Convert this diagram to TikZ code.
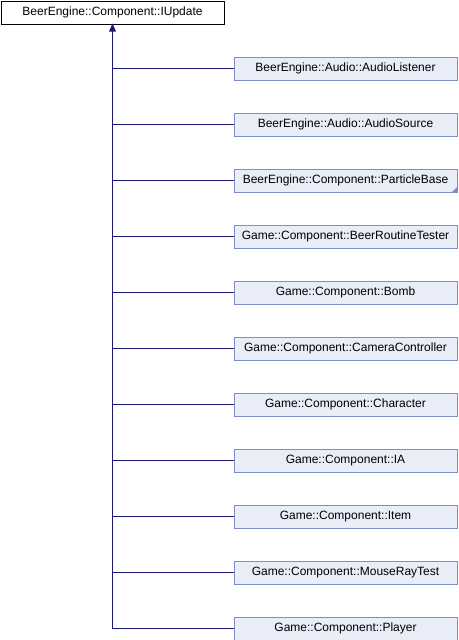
\documentclass[tikz,border=0pt]{standalone}
\usepackage{fontspec}
\setmainfont{Liberation Sans}
\usetikzlibrary{arrows.meta}
\definecolor{edgec}{HTML}{191970}
\definecolor{boxb}{HTML}{7C8FC6}
\definecolor{boxf}{HTML}{E8EDF7}
\begin{document}
\begin{tikzpicture}[x=0.75pt,y=-0.75pt,
  base/.style={draw=black,fill=white,line width=0.75pt,minimum width=223*0.75pt,minimum height=23*0.75pt,inner sep=0pt,font=\fontsize{9pt}{10pt}\selectfont,anchor=north west},
  child/.style={draw=boxb,fill=boxf,line width=0.75pt,minimum width=223*0.75pt,minimum height=23*0.75pt,inner sep=0pt,font=\fontsize{9pt}{10pt}\selectfont},
  edge/.style={draw=edgec,line width=0.75pt}]
\useasboundingbox (0,0) rectangle (458,640);
\node[base] (root) at (0.5,0.5) {BeerEngine::Component::IUpdate};
\coordinate (top) at (112.5,23.5);
\foreach \n/\t [count=\i from 0] in {
  c0/{BeerEngine::Audio::AudioListener},
  c1/{BeerEngine::Audio::AudioSource},
  c2/{BeerEngine::Component::ParticleBase},
  c3/{Game::Component::BeerRoutineTester},
  c4/{Game::Component::Bomb},
  c5/{Game::Component::CameraController},
  c6/{Game::Component::Character},
  c7/{Game::Component::IA},
  c8/{Game::Component::Item},
  c9/{Game::Component::MouseRayTest},
  c10/{Game::Component::Player}} {
  \node[child] (\n) at (345.5,68.5+56*\i) {\t};
  \coordinate (j\n) at (112.5,68.5+56*\i);
  \draw[edge] (j\n) -- (\n.west);
}
\draw[edge] (jc10) -- (top);
\fill[edgec] (top) -- ++(-3.5,8) -- ++(7,0) -- cycle;
\fill[boxb] (c2.south east) ++(-0.5,-0.5) -- ++(0,-5) -- ++(-5,5) -- cycle;
\end{tikzpicture}
\end{document}
